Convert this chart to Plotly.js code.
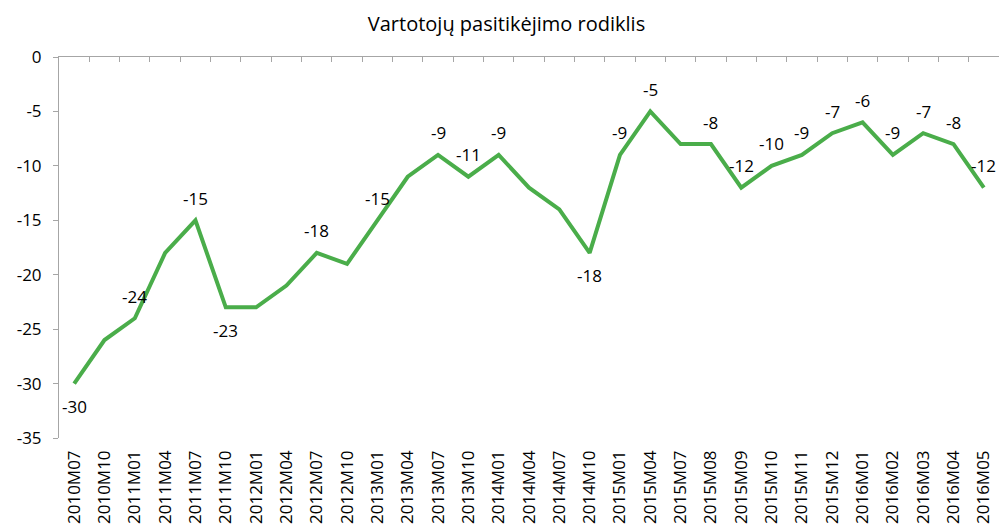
<!DOCTYPE html>
<html>
<head>
<meta charset="utf-8">
<script src="https://cdn.plot.ly/plotly-3.0.1.min.js"></script>
<style>html,body{margin:0;padding:0;background:#fff;}#chart{width:999px;height:531px;}</style>
</head>
<body>
<div id="chart"></div>
<script>
const categories = ["2010M07","2010M10","2011M01","2011M04","2011M07","2011M10","2012M01","2012M04","2012M07","2012M10","2013M01","2013M04","2013M07","2013M10","2014M01","2014M04","2014M07","2014M10","2015M01","2015M04","2015M07","2015M08","2015M09","2015M10","2015M11","2015M12","2016M01","2016M02","2016M03","2016M04","2016M05"];
const values = [-30,-26,-24,-18,-15,-23,-23,-21,-18,-19,-15,-11,-9,-11,-9,-12,-14,-18,-9,-5,-8,-8,-12,-10,-9,-7,-6,-9,-7,-8,-12];
const labelled = [true,false,true,false,true,true,false,false,true,false,true,false,true,true,true,false,false,true,true,true,false,true,true,true,true,true,true,true,true,true,true];
const below = new Set([0,5,17]);
const title = "Vartotojų pasitikėjimo rodiklis";
const yTicks = [0,-5,-10,-15,-20,-25,-30,-35];

const FONT = "Open Sans, Noto Sans, sans-serif";

const annotations = [];
values.forEach((v,i)=>{
  if (!labelled[i]) return;
  annotations.push({x: categories[i], y: v, xref: "x", yref: "y", text: String(v), showarrow: false,
    xanchor: "center", yanchor: "middle", yshift: below.has(i) ? -23 : 22,
    font: {family: FONT, size: 17, color: "#000"}});
});

const traces = [
  {x: categories, y: values, type: "scatter", mode: "lines",
   line: {color: "#4aad4a", width: 4}, hoverinfo: "x+y"},
  {x: categories, y: values, xaxis: "x2", type: "scatter", mode: "lines",
   line: {width: 0}, hoverinfo: "skip", showlegend: false}
];

const layout = {
  width: 999, height: 531,
  margin: {l: 59, r: 0, t: 57, b: 93},
  paper_bgcolor: "#fff", plot_bgcolor: "#fff",
  showlegend: false,
  font: {family: FONT, color: "#000"},
  annotations: annotations,
  title: {text: title, font: {family: FONT, size: 20, color: "#000"}, x: 0.507, xref: "container", xanchor: "center", y: 0.955, yref: "container", yanchor: "middle"},
  xaxis: {type: "category", categoryarray: categories, range: [-0.5, categories.length - 0.5],
    showline: false, showgrid: false, zeroline: false, ticks: "", tickangle: -90, ticklabelstandoff: 8,
    tickfont: {family: FONT, size: 17, color: "#000"}, fixedrange: true},
  xaxis2: {type: "category", categoryarray: categories, overlaying: "x", side: "top", range: [-0.5, categories.length - 0.5],
    showline: true, linecolor: "#a6a6a6", linewidth: 1, ticks: "inside", ticklen: 5, tickcolor: "#a6a6a6",
    tickson: "boundaries", showticklabels: false, showgrid: false, zeroline: false, fixedrange: true},
  yaxis: {range: [-35, 0], tickvals: yTicks, ticktext: yTicks.map(String), showgrid: false, zeroline: false,
    showline: true, linecolor: "#a6a6a6", linewidth: 1, ticks: "outside", ticklen: 5, tickcolor: "#a6a6a6",
    ticklabelstandoff: 8, tickfont: {family: FONT, size: 17, color: "#000"}, fixedrange: true}
};

Plotly.newPlot("chart", traces, layout, {displayModeBar: false, staticPlot: true});
</script>
</body>
</html>
